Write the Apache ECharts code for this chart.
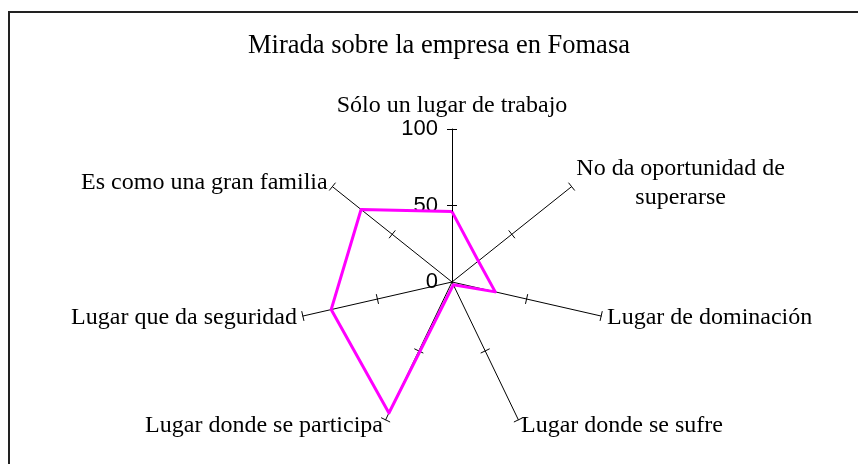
<!DOCTYPE html>
<html>
<head>
<meta charset="utf-8">
<script src="https://cdn.jsdelivr.net/npm/echarts@6/dist/echarts.min.js"></script>
<style>
  html, body { margin: 0; padding: 0; background: #fff; }
  #chart { width: 858px; height: 464px; }
</style>
</head>
<body>
<div id="chart"></div>
<script>
// indicators listed counter-clockwise from the top (ECharts radar order)
var categories = [
  'Sólo un lugar de trabajo',
  'Es como una gran familia',
  'Lugar que da seguridad',
  'Lugar donde se participa',
  'Lugar donde se sufre',
  'Lugar de dominación',
  'No da oportunidad de\nsuperarse'
];
var values = [46, 76, 81, 95, 2, 29, 22];
var axisMax = 100;
var axisSplits = 2; // ticks 0, 50, 100
var tickMarks = [50, 100];

var serif = 'Liberation Serif';
var sans = 'Liberation Sans';

// only the first (top) axis shows its tick labels
var indicators = categories.map(function (name, i) {
  var ind = { name: name, min: 0, max: axisMax };
  if (i > 0) ind.axisLabel = { show: false };
  return ind;
});
var tickOnly = categories.map(function () {
  return { name: '', min: 0, max: axisMax };
});

var chart = echarts.init(document.getElementById('chart'));

chart.setOption({
  backgroundColor: '#fff',
  animation: false,
  title: {
    text: 'Mirada sobre la empresa en Fomasa',
    left: 439,
    textAlign: 'center',
    top: 33,
    padding: 0,
    textStyle: {
      fontFamily: serif,
      fontSize: 26.5,
      fontWeight: 'normal',
      color: '#000'
    }
  },
  graphic: [{
    type: 'rect',
    silent: true,
    shape: { x: 9, y: 12, width: 900, height: 500 },
    style: { fill: 'none', stroke: '#222', lineWidth: 2 }
  }],
  radar: [
    {
      center: [452, 282],
      radius: 153,
      startAngle: 90,
      splitNumber: axisSplits,
      shape: 'polygon',
      indicator: indicators,
      nameGap: 6,
      axisName: {
        color: '#000',
        fontFamily: serif,
        fontSize: 24,
        formatter: function (name) {
          if (name.indexOf('\n') < 0) return name;
          return name.split('\n').map(function (l) { return '{c|' + l + '}'; }).join('\n');
        },
        rich: {
          c: { align: 'center', fontFamily: serif, fontSize: 24, lineHeight: 29, color: '#000' }
        }
      },
      axisLine: { show: true, lineStyle: { color: '#000', width: 1 } },
      axisTick: { show: true, length: 5, customValues: tickMarks, lineStyle: { color: '#000', width: 1 } },
      axisLabel: {
        show: true,
        margin: 14,
        color: '#000',
        fontFamily: sans,
        fontSize: 22
      },
      splitLine: { show: false },
      splitArea: { show: false }
    },
    {
      // mirrored copy (negative radius, turned 180°) draws the other half of each crossing tick
      center: [452, 282],
      radius: -153,
      startAngle: 270,
      splitNumber: axisSplits,
      shape: 'polygon',
      indicator: tickOnly,
      axisName: { show: false },
      axisLine: { show: false },
      axisTick: { show: true, length: 5, customValues: tickMarks, lineStyle: { color: '#000', width: 1 } },
      axisLabel: { show: false },
      splitLine: { show: false },
      splitArea: { show: false }
    }
  ],
  series: [{
    type: 'radar',
    radarIndex: 0,
    symbol: 'none',
    lineStyle: { color: '#ff00ff', width: 3 },
    data: [{ name: 'Fomasa', value: values }]
  }]
});
</script>
</body>
</html>
